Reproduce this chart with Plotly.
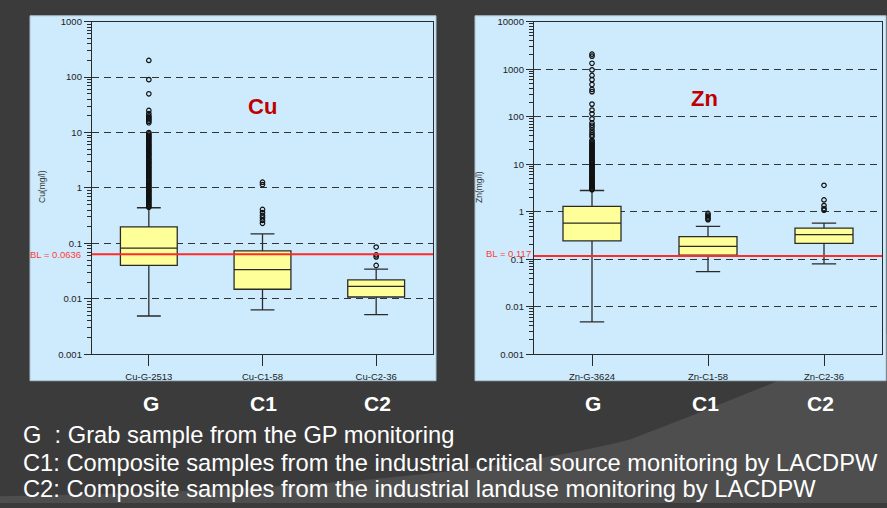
import math
import plotly.graph_objects as go

W, H = 887, 508

# ---------------- data ----------------
cu_categories = ["Cu-G-2513", "Cu-C1-58", "Cu-C2-36"]
cu_q1 = [0.040, 0.0149, 0.0108]
cu_median = [0.082, 0.0337, 0.0168]
cu_q3 = [0.198, 0.0736, 0.022]
cu_lower = [0.0049, 0.0063, 0.0052]
cu_upper = [0.44, 0.149, 0.0344]
cu_out_G = [0.45, 0.47, 0.5, 0.52, 0.55, 0.58, 0.61, 0.64, 0.67, 0.7, 0.74, 0.78, 0.82,
            0.86, 0.9, 0.95, 1.0, 1.05, 1.1, 1.16, 1.22, 1.28, 1.35, 1.42, 1.5, 1.58,
            1.66, 1.75, 1.84, 1.94, 2.04, 2.15, 2.26, 2.38, 2.5, 2.64, 2.78, 2.92, 3.08,
            3.24, 3.41, 3.6, 3.8, 4.0, 4.2, 4.4, 4.65, 4.9, 5.15, 5.4, 5.7, 6.0, 6.3,
            6.65, 7.0, 7.4, 7.8, 8.2, 8.6, 9.0, 9.5, 10.0, 15, 16, 17, 18, 19, 20, 22,
            25, 50, 90, 200]
cu_out_C1 = [0.23, 0.26, 0.29, 0.32, 0.36, 0.41, 1.15, 1.27]
cu_out_C2 = [0.04, 0.057, 0.062, 0.086]
cu_BL = 0.0636

zn_categories = ["Zn-G-3624", "Zn-C1-58", "Zn-C2-36"]
zn_q1 = [0.244, 0.1225, 0.216]
zn_median = [0.574, 0.1875, 0.331]
zn_q3 = [1.29, 0.30, 0.453]
zn_lower = [0.0048, 0.0547, 0.0798]
zn_upper = [2.8, 0.49, 0.574]
zn_out_G = [2.9, 3.0, 3.1, 3.2, 3.4, 3.5, 3.7, 3.9, 4.1, 4.3, 4.5, 4.8, 5.0, 5.3, 5.6,
            5.9, 6.2, 6.5, 6.9, 7.3, 7.7, 8.1, 8.6, 9.0, 9.5, 10, 10.6, 11.2, 11.8,
            12.4, 13.1, 13.8, 14.6, 15.4, 16.2, 17.1, 18, 19, 20, 21.2, 22.4, 23.6, 25,
            26.5, 28, 30, 32, 38, 41, 46, 52, 59, 66, 74, 90, 115, 138, 184, 336, 374,
            475, 602, 738, 966, 1330, 1880, 2065]
zn_out_C1 = [0.68, 0.72, 0.78, 0.85, 0.92]
zn_out_C2 = [1.08, 1.17, 1.35, 1.77, 3.6]
zn_BL = 0.117

cu_ticks = [0.001, 0.01, 0.1, 1, 10, 100, 1000]
zn_ticks = [0.001, 0.01, 0.1, 1, 10, 100, 1000, 10000]

group_labels = ["G", "C1", "C2"]
legend_lines = [
    "G  : Grab sample from the GP monitoring",
    "C1: Composite samples from the industrial critical source monitoring by LACDPW",
    "C2: Composite samples from the industrial landuse monitoring by LACDPW",
]

# ---------------- style ----------------
BG = "#3b3b3b"
PANEL = "#cdebfd"
BOXFILL = "#ffff99"
LINE = "#2a2a2a"
RED = "#ff2a2a"
FONT = "Liberation Sans, Arial"


def px(x):
    return x / W


def py(y):
    return 1 - y / H


fig = go.Figure()

# boxes
for cats, q1, med, q3, lo, hi, xa, ya in [
    (cu_categories, cu_q1, cu_median, cu_q3, cu_lower, cu_upper, "x", "y"),
    (zn_categories, zn_q1, zn_median, zn_q3, zn_lower, zn_upper, "x2", "y2"),
]:
    fig.add_trace(go.Box(
        x=cats, q1=q1, median=med, q3=q3, lowerfence=lo, upperfence=hi,
        boxpoints=False, fillcolor=BOXFILL, line=dict(color=LINE, width=1.3),
        whiskerwidth=0.42, width=0.5, xaxis=xa, yaxis=ya, showlegend=False,
        hoverinfo="skip",
    ))

# outliers
for cat, vals, xa, ya in [
    (cu_categories[0], cu_out_G, "x", "y"),
    (cu_categories[1], cu_out_C1, "x", "y"),
    (cu_categories[2], cu_out_C2, "x", "y"),
    (zn_categories[0], zn_out_G, "x2", "y2"),
    (zn_categories[1], zn_out_C1, "x2", "y2"),
    (zn_categories[2], zn_out_C2, "x2", "y2"),
]:
    fig.add_trace(go.Scatter(
        x=[cat] * len(vals), y=vals, mode="markers",
        marker=dict(symbol="circle-open", size=4.5, color="#111", line=dict(width=1.2)),
        xaxis=xa, yaxis=ya, showlegend=False, hoverinfo="skip",
    ))

y_dom = [py(356), py(16)]

common_y = dict(
    type="log", showline=True, linecolor=LINE, linewidth=1.3, mirror=True,
    tickmode="linear", tick0=0, dtick=1, tickformat="~g",
    ticks="outside", ticklen=7, tickcolor=LINE, tickwidth=1,
    tickfont=dict(family=FONT, size=9.5, color="#222"),
    showgrid=True, gridcolor="#333", gridwidth=1, griddash="7px,5px",
    minor=dict(dtick="D1", ticks="outside", ticklen=4, tickcolor=LINE, tickwidth=1,
               showgrid=False),
    zeroline=False, domain=y_dom,
)
common_x = dict(
    type="category", range=[-0.5, 2.5], showline=True, linecolor=LINE, linewidth=1.3,
    mirror=True, ticks="outside", ticklen=11, tickcolor=LINE, showgrid=False,
    ticklabelstandoff=2,
    tickfont=dict(family=FONT, size=9.5, color="#222"),
)

fig.update_layout(
    width=W, height=H, margin=dict(l=0, r=0, t=0, b=0),
    paper_bgcolor=BG, plot_bgcolor=PANEL,
    xaxis=dict(domain=[px(92), px(433)], anchor="y", **common_x),
    xaxis2=dict(domain=[px(534), px(882)], anchor="y2", **common_x),
    yaxis=dict(anchor="x", range=[math.log10(cu_ticks[0]), math.log10(cu_ticks[-1])],
               **common_y),
    yaxis2=dict(anchor="x2", range=[math.log10(zn_ticks[0]), math.log10(zn_ticks[-1])],
                **common_y),
)

shapes = []
# background swoosh
shapes.append(dict(
    type="path", xref="paper", yref="paper", layer="below",
    path=(f"M 0,{py(508)} L 0,{py(501)} Q {px(430)},{py(495)} {px(630)},{py(443)} "
          f"Q {px(760)},{py(393)} {px(887)},{py(335)} L {px(887)},{py(508)} Z"),
    fillcolor="#4e4e4e", line=dict(width=0),
))
# panels
for x0, x1 in [(30, 436), (475, 886)]:
    shapes.append(dict(type="rect", xref="paper", yref="paper", layer="below",
                       x0=px(x0), x1=px(x1), y0=py(383), y1=py(10),
                       fillcolor=PANEL, line=dict(color="#aac3d2", width=1)))
# BL lines
shapes.append(dict(type="line", xref="x domain", yref="y", x0=0, x1=1, y0=cu_BL, y1=cu_BL,
                   line=dict(color=RED, width=2), layer="above"))
shapes.append(dict(type="line", xref="x2 domain", yref="y2", x0=0, x1=1, y0=zn_BL, y1=zn_BL,
                   line=dict(color=RED, width=2), layer="above"))
fig.update_layout(shapes=shapes)

ann = []
ann.append(dict(text="<b>Cu</b>", x=px(262), y=py(103), xref="paper", yref="paper",
                xanchor="center", yanchor="middle", showarrow=False,
                font=dict(family=FONT, size=22, color="#c00000")))
ann.append(dict(text="<b>Zn</b>", x=px(704), y=py(95), xref="paper", yref="paper",
                xanchor="center", yanchor="middle", showarrow=False,
                font=dict(family=FONT, size=22, color="#c00000")))
ann.append(dict(text="Cu(mg/l)", x=px(42), y=py(185), xref="paper", yref="paper", textangle=-90,
                xanchor="center", yanchor="middle", showarrow=False,
                font=dict(family=FONT, size=8.5, color="#333")))
ann.append(dict(text="Zn(mg/l)", x=px(479), y=py(185), xref="paper", yref="paper", textangle=-90,
                xanchor="center", yanchor="middle", showarrow=False,
                font=dict(family=FONT, size=8.5, color="#333")))
ann.append(dict(text=f"BL = {cu_BL}", x=px(83), y=math.log10(cu_BL), xref="paper", yref="y",
                xanchor="right", yanchor="middle", showarrow=False,
                font=dict(family=FONT, size=9.5, color="#ff3b3b")))
ann.append(dict(text=f"BL = {zn_BL}", x=px(533), y=math.log10(zn_BL), xref="paper", yref="y2",
                xanchor="right", yanchor="middle", yshift=3, showarrow=False,
                font=dict(family=FONT, size=9.5, color="#ff3b3b")))
for xs in [(151, 263, 377), (593, 705, 820)]:
    for lab, xx in zip(group_labels, xs):
        ann.append(dict(text=f"<b>{lab}</b>", x=px(xx), y=py(406), xref="paper", yref="paper",
                        xanchor="center", yanchor="middle", showarrow=False,
                        font=dict(family=FONT, size=21, color="white")))
for i, line in enumerate(legend_lines):
    ann.append(dict(text=line, x=px(21), y=py([438, 467, 494][i]), xref="paper", yref="paper",
                    xanchor="left", yanchor="middle", showarrow=False,
                    font=dict(family=FONT, size=23.7, color="white")))
fig.update_layout(annotations=ann)

fig.write_html("out.html", config={"displayModeBar": False},
               post_script="document.body.style.margin='0px';")
